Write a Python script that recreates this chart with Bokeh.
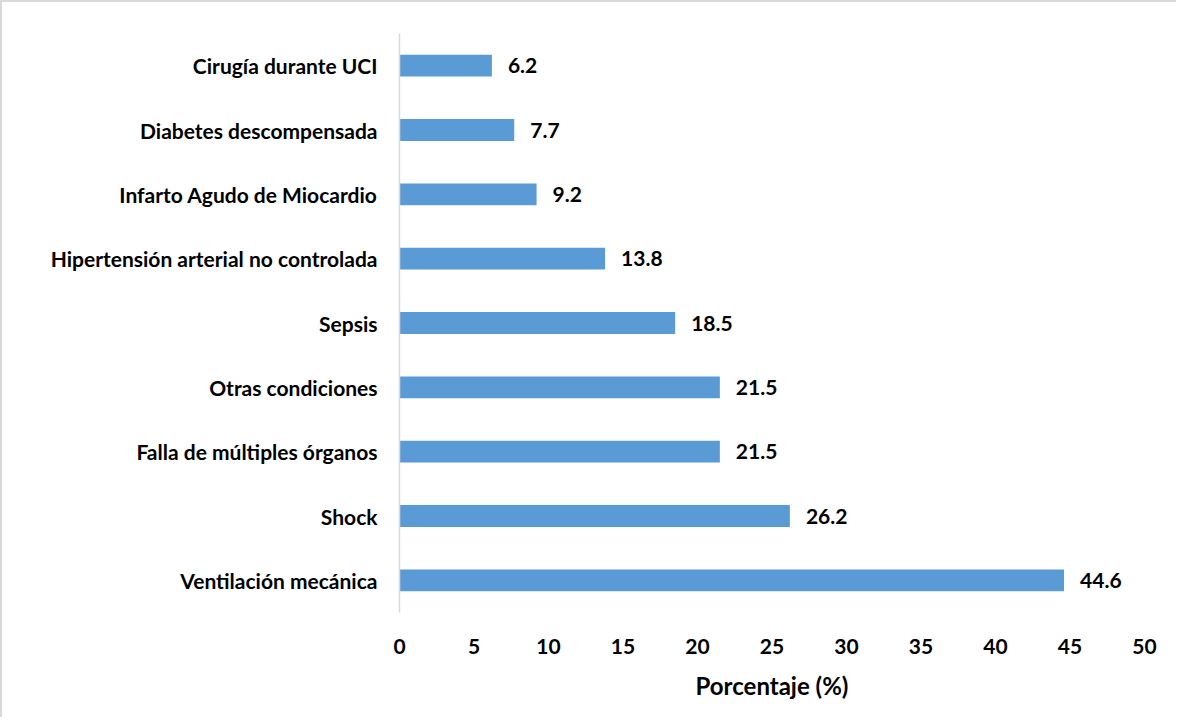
from bokeh.plotting import figure
from bokeh.models import ColumnDataSource, LabelSet, FixedTicker, Range1d, FactorRange
from bokeh.core.properties import value
from bokeh.embed import file_html
from bokeh.resources import INLINE

categories = [
    "Cirugía durante UCI",
    "Diabetes descompensada",
    "Infarto Agudo de Miocardio",
    "Hipertensión arterial no controlada",
    "Sepsis",
    "Otras condiciones",
    "Falla de múltiples órganos",
    "Shock",
    "Ventilación mecánica",
]
values = [6.2, 7.7, 9.2, 13.8, 18.5, 21.5, 21.5, 26.2, 44.6]
x_ticks = [0, 5, 10, 15, 20, 25, 30, 35, 40, 45, 50]

FONT = "Lato"
FS = "21px"

src = ColumnDataSource(dict(cat=categories, val=values,
                            lab=[f"{v:.1f}" for v in values]))

p = figure(
    y_range=FactorRange(*list(reversed(categories)), range_padding=0),
    x_range=Range1d(0, 50),
    width=1174, height=715,
    frame_width=745, frame_height=579,
    min_border_left=397, min_border_right=32,
    min_border_top=31, min_border_bottom=105,
    output_backend="svg", toolbar_location=None,
    background_fill_color="white", border_fill_color="white",
    outline_line_color=None,
)
p.styles = {"border-top": "2px solid #d9d9d9", "border-left": "2px solid #d9d9d9"}

p.hbar(y="cat", right="val", left=0, height=0.34, source=src,
       fill_color="#5B9BD5", line_color=None)

labels = LabelSet(x="val", y="cat", text="lab", source=src,
                  x_offset=16, text_baseline="middle", text_align="left",
                  text_font=value(FONT), text_font_style="bold",
                  text_font_size=value(FS), text_color="black")
p.add_layout(labels)

p.xgrid.visible = False
p.ygrid.visible = False

xa = p.xaxis[0]
xa.ticker = FixedTicker(ticks=x_ticks)
xa.axis_line_color = None
xa.major_tick_line_color = None
xa.minor_tick_line_color = None
xa.major_label_text_font = FONT
xa.major_label_text_font_style = "bold"
xa.major_label_text_font_size = FS
xa.major_label_text_color = "black"
xa.major_label_standoff = 20
xa.axis_label = "Porcentaje (%)"
xa.axis_label_text_font = FONT
xa.axis_label_text_font_style = "bold"
xa.axis_label_text_font_size = "24px"
xa.axis_label_text_color = "black"
xa.axis_label_standoff = 14

ya = p.yaxis[0]
ya.axis_line_color = "#d9d9d9"
ya.axis_line_width = 1.5
ya.major_tick_line_color = None
ya.minor_tick_line_color = None
ya.major_label_text_font = FONT
ya.major_label_text_font_style = "bold"
ya.major_label_text_font_size = FS
ya.major_label_text_color = "black"
ya.major_label_standoff = 16

open("out.html", "w").write(file_html(p, INLINE))
